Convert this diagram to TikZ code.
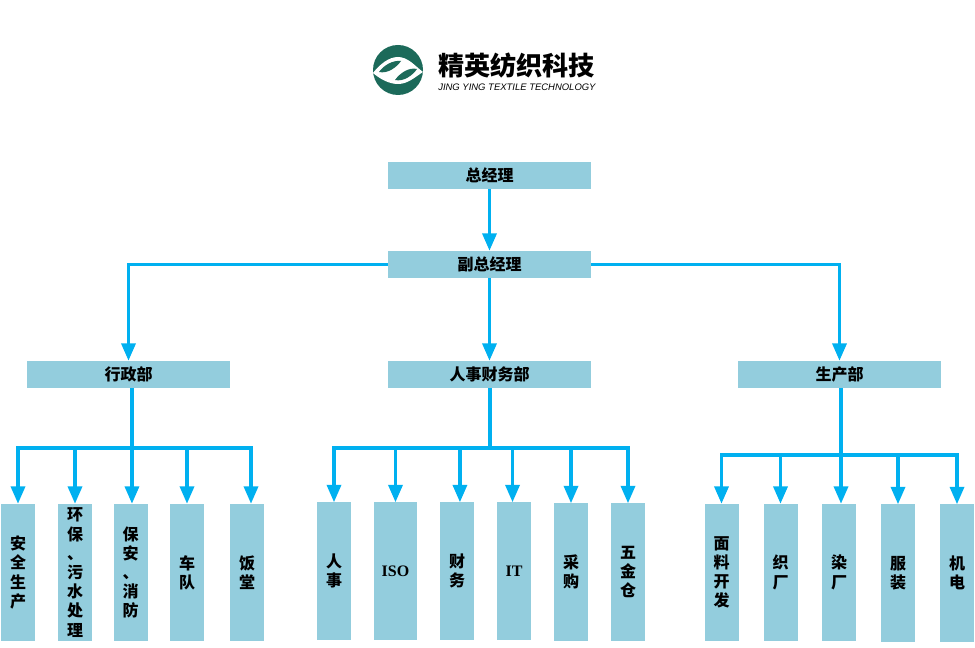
\documentclass[tikz,border=0pt]{standalone}
\usepackage{fontspec}
\setmainfont{Liberation Serif}
\newfontfamily\cjk{Noto Sans CJK SC}
\newfontfamily\logofont{Liberation Sans}
\usepackage{tikz}
\usetikzlibrary{arrows.meta}
\definecolor{boxblue}{RGB}{147,205,221}
\definecolor{linkblue}{RGB}{0,176,240}
\definecolor{logogreen}{RGB}{28,106,90}
\begin{document}
\begin{tikzpicture}[
		x=0.75pt, y=-0.75pt,
		every node/.style = {shape=rectangle, inner sep=0pt, align=center},
		wide box/.style = {fill=boxblue, minimum width=152.25pt, minimum height=20.25pt,
				font=\cjk\bfseries\fontsize{12}{14}\selectfont},
		tall box/.style = {fill=boxblue, minimum height=102.75pt,
				font=\cjk\bfseries\fontsize{12}{14.4}\selectfont},
		thin box/.style = {tall box, minimum width=25.5pt},
		link/.style = {draw=linkblue, line width=2.5pt, -{Triangle[length=13pt,width=10.5pt]}},
		stem/.style = {draw=linkblue, line width=2.5pt}
	]
	\useasboundingbox (0,0) rectangle (975,648);

	\fill[logogreen] (398,70) circle [radius=25];
	\fill[white] (373,73) .. controls (380,64) and (389,57) .. (398,57)
		.. controls (408,57) and (415,66) .. (423,72)
		.. controls (415,77) and (408,84) .. (398,84)
		.. controls (389,84) and (380,79) .. (373,73) -- cycle;
	\fill[logogreen] (379,72) .. controls (384,65) and (393,60) .. (401,61)
		.. controls (397,67) and (388,74) .. (379,72) -- cycle;
	\fill[logogreen] (395,80) .. controls (400,73) and (409,67) .. (417,69)
		.. controls (413,75) and (404,82) .. (395,80) -- cycle;
	\node[anchor=west, font=\cjk\bfseries\fontsize{19.6}{22}\selectfont] (logoname) at (438,66) {精英纺织科技};
	\node[anchor=west, font=\logofont\itshape\fontsize{7.1}{8}\selectfont] (logoline) at (438,87.5) {JING YING TEXTILE TECHNOLOGY};

	\node[wide box] (gm) at (489.5,175.5) {总经理};
	\node[wide box] (vice) at (489.5,264.5) {副总经理};
	\node[wide box] (admin) at (128.5,374.5) {行政部};
	\node[wide box] (hr) at (489.5,374.5) {人事财务部};
	\node[wide box] (prod) at (839.5,374.5) {生产部};

	\node[thin box] (safety) at (18,572.5) {安\\全\\生\\产};
	\node[thin box] (envir) at (75,572.5) {环\\保\\、\\污\\水\\处\\理};
	\node[thin box] (guard) at (130.5,572.5) {保\\安\\、\\消\\防};
	\node[thin box] (fleet) at (187,572.5) {车\\队};
	\node[thin box] (canteen) at (247,572.5) {饭\\堂};

	\node[thin box] (staff) at (334,571) {人\\事};
	\node[tall box, minimum width=32.25pt] (iso) at (395.5,571) {\rmfamily ISO};
	\node[thin box] (finance) at (457,571) {财\\务};
	\node[thin box] (it) at (514,571) {\rmfamily IT};
	\node[thin box] (purchase) at (571,572) {采\\购};
	\node[thin box] (store) at (628,572) {五\\金\\仓};

	\node[thin box] (fabric) at (721.5,572.5) {面\\料\\开\\发};
	\node[thin box] (weave) at (780.5,572.5) {织\\厂};
	\node[thin box] (dye) at (839,572.5) {染\\厂};
	\node[thin box] (garment) at (898,573) {服\\装};
	\node[thin box] (mech) at (957,573) {机\\电};

	\coordinate (adminbus) at (132,448);
	\coordinate (hrbus) at (490,448);
	\coordinate (prodbus) at (841,455);

	\draw[link] (gm) -- (vice);
	\draw[link] (vice) -- (hr);
	\draw[link] (vice.west) -| (admin.north);
	\draw[link] (vice.east) -| (prod.north);

	\draw[stem] (adminbus |- admin.south) -- (adminbus);
	\draw[stem] (hrbus |- hr.south) -- (hrbus);
	\draw[stem] (prodbus |- prod.south) -- (prodbus);

	\foreach \name/\shift in {safety/0, envir/0, guard/1.1, fleet/0, canteen/3}
		\draw[link] (adminbus) -| ([xshift=\shift pt]\name.north);
	\foreach \name/\shift in {staff/0, iso/0, finance/2.2, it/-1.1, purchase/0, store/0}
		\draw[link] (hrbus) -| ([xshift=\shift pt]\name.north);
	\foreach \name/\shift in {fabric/0, weave/0, dye/1.5, garment/0, mech/0}
		\draw[link] (prodbus) -| ([xshift=\shift pt]\name.north);
\end{tikzpicture}
\end{document}
